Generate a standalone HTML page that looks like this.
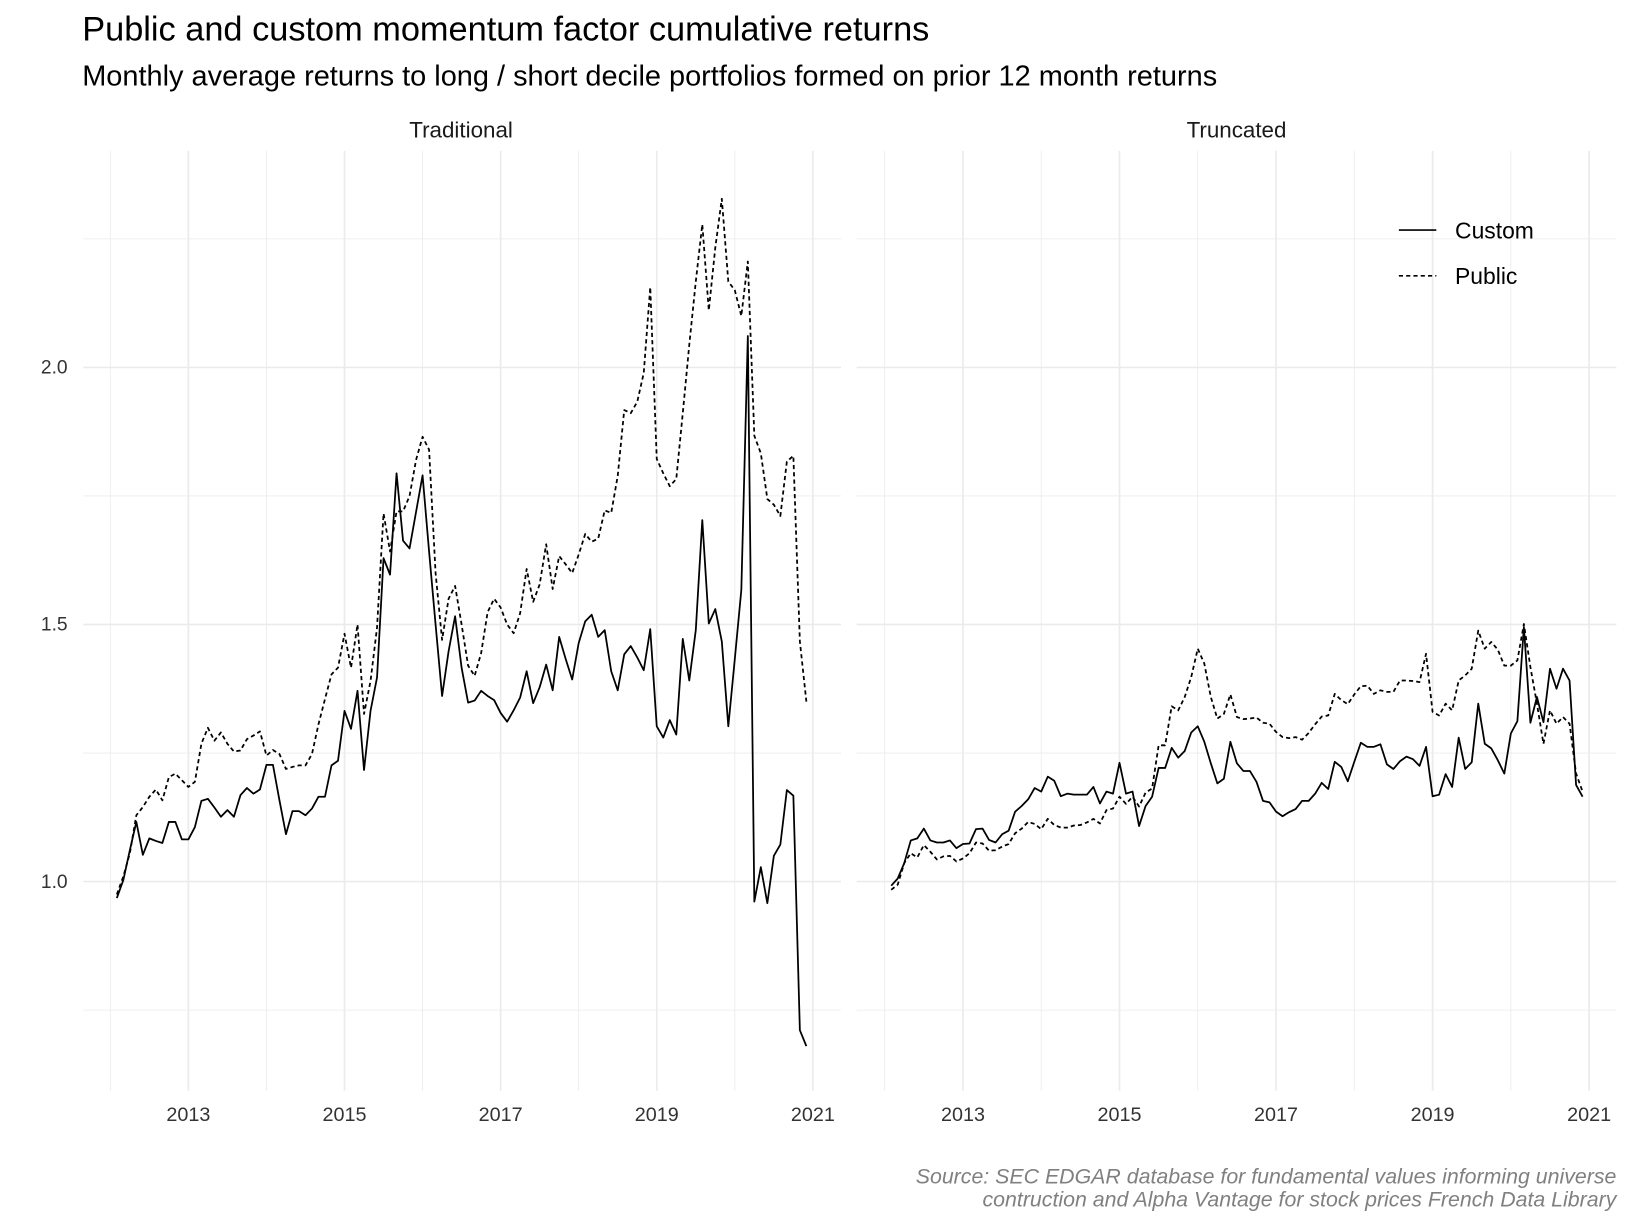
<!DOCTYPE html>
<html><head><meta charset="utf-8"><style>
html,body{margin:0;padding:0;background:#fff}
svg{display:block}
text{font-family:"Liberation Sans",Arial,sans-serif}
</style></head><body>
<svg id="chart" width="1632" height="1224" viewBox="0 0 1568 1176" xmlns="http://www.w3.org/2000/svg">
<text x="79" y="39" font-size="33" fill="#000">Public and custom momentum factor cumulative returns</text>
<text x="79" y="82" font-size="27.8" fill="#000">Monthly average returns to long / short decile portfolios formed on prior 12 month returns</text>
<text x="443" y="132" font-size="21.5" text-anchor="middle" fill="#1a1a1a">Traditional</text>
<text x="1188" y="132" font-size="21.5" text-anchor="middle" fill="#1a1a1a">Truncated</text>
<g id="grid"></g>
<g id="axes"></g>
<g id="series"></g>
<g>
<line x1="1344" y1="221" x2="1380" y2="221" stroke="#000" stroke-width="1.6"/>
<text x="1398" y="229" font-size="22" fill="#000">Custom</text>
<line x1="1344" y1="265" x2="1380" y2="265" stroke="#000" stroke-width="1.6" stroke-dasharray="4 3"/>
<text x="1398" y="273" font-size="22" fill="#000">Public</text>
</g>
<text x="1553" y="1137" font-size="20.5" font-style="italic" text-anchor="end" fill="#808080">Source: SEC EDGAR database for fundamental values informing universe</text>
<text x="1553" y="1159" font-size="20.5" font-style="italic" text-anchor="end" fill="#808080">contruction and Alpha Vantage for stock prices French Data Library</text>
</svg>
<script>
const startYear = 2012;
const startMonth = 2;
const yTicks = [1.0, 1.5, 2.0];
const yTickLabels = ["1.0", "1.5", "2.0"];
const yMinor = [0.75, 1.25, 1.75, 2.25];
const xTicks = [2013, 2015, 2017, 2019, 2021];
const xMinor = [2012, 2014, 2016, 2018, 2020];
const tradCustom = [0.968,1.003,1.061,1.116,1.052,1.084,1.079,1.075,1.116,1.116,1.082,
1.082,1.106,1.157,1.161,1.144,1.126,1.139,1.126,1.168,1.182,1.171,1.179,
1.227,1.227,1.158,1.092,1.137,1.137,1.129,1.142,1.165,1.165,1.226,1.235,
1.332,1.297,1.371,1.217,1.332,1.397,1.629,1.597,1.794,1.663,1.648,1.719,
1.790,1.642,1.5,1.361,1.448,1.516,1.416,1.348,1.352,1.371,1.361,1.353,
1.328,1.311,1.333,1.358,1.409,1.347,1.378,1.422,1.372,1.476,1.433,1.393,
1.464,1.506,1.519,1.476,1.489,1.409,1.372,1.442,1.458,1.436,1.411,1.491,
1.302,1.280,1.314,1.286,1.472,1.391,1.489,1.703,1.502,1.530,1.467,1.302,
1.433,1.567,2.061,0.961,1.028,0.958,1.05,1.072,1.178,1.167,0.711,0.680];
const tradPublic = [0.975,1.01,1.055,1.129,1.145,1.165,1.179,1.158,1.203,1.21,1.197,
1.184,1.194,1.268,1.299,1.274,1.29,1.268,1.253,1.255,1.277,1.284,1.292,
1.245,1.256,1.248,1.219,1.223,1.226,1.226,1.248,1.306,1.355,1.403,1.416,
1.482,1.416,1.5,1.326,1.39,1.494,1.716,1.642,1.72,1.72,1.75,1.82,
1.865,1.84,1.6,1.47,1.55,1.575,1.5,1.42,1.40,1.444,1.524,1.55,
1.533,1.5,1.483,1.522,1.608,1.544,1.578,1.656,1.569,1.633,1.617,1.6,
1.636,1.676,1.661,1.667,1.722,1.717,1.789,1.917,1.911,1.933,1.989,2.156,
1.822,1.794,1.769,1.783,1.911,2.044,2.167,2.278,2.111,2.233,2.328,2.167,
2.15,2.1,2.206,1.867,1.833,1.744,1.733,1.711,1.817,1.828,1.467,1.35];
const truncCustom = [0.992,1.006,1.036,1.08,1.084,1.103,1.08,1.076,1.076,1.08,1.065,
1.073,1.074,1.102,1.103,1.081,1.076,1.092,1.099,1.136,1.147,1.160,1.182,
1.175,1.204,1.196,1.166,1.171,1.169,1.169,1.169,1.184,1.152,1.175,1.171,
1.231,1.171,1.175,1.108,1.147,1.165,1.221,1.221,1.26,1.241,1.254,1.29,
1.302,1.272,1.23,1.191,1.2,1.272,1.23,1.215,1.215,1.194,1.157,1.154,
1.136,1.127,1.135,1.141,1.157,1.157,1.171,1.192,1.18,1.233,1.223,1.195,
1.233,1.27,1.262,1.262,1.267,1.228,1.219,1.234,1.243,1.238,1.225,1.262,
1.166,1.169,1.209,1.184,1.28,1.219,1.232,1.346,1.268,1.259,1.236,1.21,
1.288,1.312,1.495,1.309,1.359,1.31,1.414,1.375,1.414,1.391,1.188,1.165];
const truncPublic = [0.984,0.994,1.036,1.055,1.047,1.071,1.058,1.043,1.049,1.05,1.039,
1.045,1.055,1.076,1.074,1.06,1.061,1.068,1.073,1.094,1.103,1.116,1.112,
1.102,1.122,1.11,1.105,1.105,1.109,1.11,1.115,1.122,1.113,1.139,1.142,
1.165,1.151,1.165,1.146,1.173,1.181,1.265,1.265,1.341,1.333,1.359,1.398,
1.453,1.424,1.359,1.317,1.326,1.364,1.32,1.316,1.317,1.319,1.309,1.307,
1.291,1.281,1.279,1.281,1.276,1.289,1.306,1.321,1.323,1.365,1.353,1.345,
1.364,1.38,1.381,1.365,1.372,1.369,1.369,1.391,1.391,1.39,1.388,1.443,
1.33,1.323,1.346,1.333,1.391,1.401,1.414,1.488,1.453,1.466,1.451,1.42,
1.42,1.43,1.501,1.417,1.346,1.268,1.333,1.307,1.32,1.307,1.21,1.175];

const NS = "http://www.w3.org/2000/svg";
const panels = [
  {x0:80, x1:808, origin:106, perYear:75.0, custom:tradCustom, pub:tradPublic, key:"traditional"},
  {x0:823, x1:1553, origin:850, perYear:75.2, custom:truncCustom, pub:truncPublic, key:"truncated"}
];
const yTop = 145, yBottom = 1048;
function yScale(v){ return 847 - (v - 1.0) * 494; }
function mk(tag, attrs, parent){ const e = document.createElementNS(NS, tag); for (const k in attrs) e.setAttribute(k, attrs[k]); parent.appendChild(e); return e; }
const grid = document.getElementById('grid');
const axes = document.getElementById('axes');
const series = document.getElementById('series');
panels.forEach(p => {
  const xScale = t => p.origin + (t - 2012) * p.perYear;
  yMinor.forEach(v => { const l = mk('line', {x1:p.x0, x2:p.x1, y1:yScale(v), y2:yScale(v), stroke:'#ebebeb', 'stroke-width':0.8}, grid);
    
     });
  yTicks.forEach(v => { const l = mk('line', {x1:p.x0, x2:p.x1, y1:yScale(v), y2:yScale(v), stroke:'#ebebeb', 'stroke-width':1.6}, grid);
    
     });
  xMinor.forEach(t => { const l = mk('line', {x1:xScale(t), x2:xScale(t), y1:yTop, y2:yBottom, stroke:'#ebebeb', 'stroke-width':0.8}, grid);
    
     });
  xTicks.forEach(t => { const l = mk('line', {x1:xScale(t), x2:xScale(t), y1:yTop, y2:yBottom, stroke:'#ebebeb', 'stroke-width':1.6}, grid);
    
    
    const tx = mk('text', {x:xScale(t), y:1077, 'font-size':19, 'text-anchor':'middle', fill:'#333'}, axes);
    tx.textContent = String(t);
    
     });
  const line = (vals, dash, name) => {
    let d = '';
    vals.forEach((v, i) => { const t = startYear + (startMonth - 1 + i) / 12; d += (i ? 'L' : 'M') + xScale(t).toFixed(2) + ',' + yScale(v).toFixed(2); });
    const path = mk('path', {d:d, fill:'none', stroke:'#000', 'stroke-width':1.7, 'stroke-linejoin':'round'}, series);
    if (dash) path.setAttribute('stroke-dasharray', '4 3');
    
    
  };
  line(p.pub, true, p.key + '-public-line');
  line(p.custom, false, p.key + '-custom-line');
});
yTicks.forEach((v, i) => { const tx = mk('text', {x:65, y:yScale(v) + 6, 'font-size':18.5, 'text-anchor':'end', fill:'#333'}, axes);
  tx.textContent = yTickLabels[i];
  
   });
</script>
</body></html>
